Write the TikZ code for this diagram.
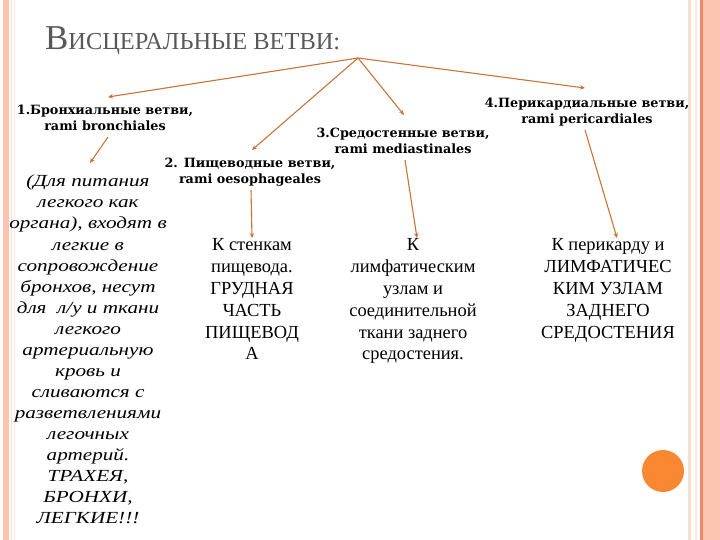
\documentclass[tikz,border=0pt]{standalone}
\usepackage{fontspec}
\setmainfont{Liberation Serif}
\newfontfamily\dvs{DejaVu Serif}
\newfontfamily\wideit{Liberation Serif}[FakeStretch=1.25]
\usetikzlibrary{arrows.meta}
\definecolor{arrowc}{RGB}{205,115,55}
\definecolor{salmon}{RGB}{250,196,176}
\definecolor{salmondk}{RGB}{236,140,108}
\definecolor{peach}{RGB}{250,222,205}
\definecolor{titlec}{RGB}{88,88,88}
\definecolor{dotc}{RGB}{250,136,50}
\tikzset{
  conn/.style={draw=arrowc, line width=1.1bp, -{Stealth[length=5bp,width=4.5bp]}},
  lbl/.style={align=center, inner sep=0pt, font=\dvs\bfseries\fontsize{12.8}{16.5}\selectfont},
  lefttext/.style={align=center, inner sep=0pt, anchor=north, font=\wideit\itshape\fontsize{17}{21.1}\selectfont},
  coltext/.style={align=center, inner sep=0pt, anchor=north, font=\fontsize{18.5}{21.9}\selectfont},
}
\begin{document}
\begin{tikzpicture}[x=1bp,y=-1bp]
\useasboundingbox (0,0) rectangle (720,540);
\fill[white] (0,0) rectangle (720,540);
% borders
\fill[salmon] (3,0) rectangle (9,540);
\fill[peach] (11,0) rectangle (12,540);
\fill[peach!60] (14,0) rectangle (15,540);
\fill[peach] (688,0) rectangle (691,540);
\fill[peach!70] (695,0) rectangle (697,540);
\fill[salmondk] (700,0) rectangle (702.5,540);
\fill[salmon] (702.5,0) rectangle (720,540);
% title
\node[anchor=base west, inner sep=0pt, text=titlec] (title) at (45,50)
  {{\fontsize{35}{35}\selectfont В}{\fontsize{24.5}{24.5}\selectfont ИСЦЕРАЛЬНЫЕ ВЕТВИ:}};
% hub and label nodes
\coordinate (hub) at (358,58);
\node[lbl] (l1) at (105,118) {1.Бронхиальные ветви,\\rami bronchiales};
\node[lbl] (l2) at (250,172) {2. Пищеводные ветви,\\rami oesophageales};
\node[lbl] (l3) at (403,141) {3.Средостенные ветви,\\rami mediastinales};
\node[lbl] (l4) at (587,112) {4.Перикардиальные ветви,\\rami pericardiales};
\coordinate (a1) at (108,97);
\coordinate (a2) at (252,150);
\coordinate (a3) at (404,115);
\coordinate (a4) at (585,88);
\draw[conn] (hub) -- (a1);
\draw[conn] (hub) -- (a2);
\draw[conn] (hub) -- (a3);
\draw[conn] (hub) -- (a4);
% bodies
\node[lefttext] (t1) at (88,175) {(Для питания\\легкого как\\органа), входят в\\легкие в\\сопровождение\\бронхов, несут\\для~~л/у и ткани\\легкого\\артериальную\\кровь и\\сливаются с\\разветвлениями\\легочных\\артерий.\\ТРАХЕЯ,\\БРОНХИ,\\ЛЕГКИЕ!!!};
\node[coltext] (t2) at (252,238.5) {К стенкам\\пищевода.\\ГРУДНАЯ\\ЧАСТЬ\\ПИЩЕВОД\\А};
\node[coltext] (t3) at (413,238.5) {К\\лимфатическим\\узлам и\\соединительной\\ткани заднего\\средостения.};
\node[coltext] (t4) at (608,238.5) {К перикарду и\\ЛИМФАТИЧЕС\\КИМ УЗЛАМ\\ЗАДНЕГО\\СРЕДОСТЕНИЯ};
\coordinate (b1) at (108,137);
\coordinate (b2) at (251,190);
\coordinate (b3) at (405,160);
\coordinate (b4) at (585,130);
\coordinate (e1) at (90,163);
\coordinate (e2) at (252,238);
\coordinate (e3) at (417,238);
\coordinate (e4) at (617,238);
\draw[conn] (b1) -- (e1);
\draw[conn] (b2) -- (e2);
\draw[conn] (b3) -- (e3);
\draw[conn] (b4) -- (e4);
% dot
\fill[dotc] (663,471) circle (21);
\end{tikzpicture}
\end{document}
